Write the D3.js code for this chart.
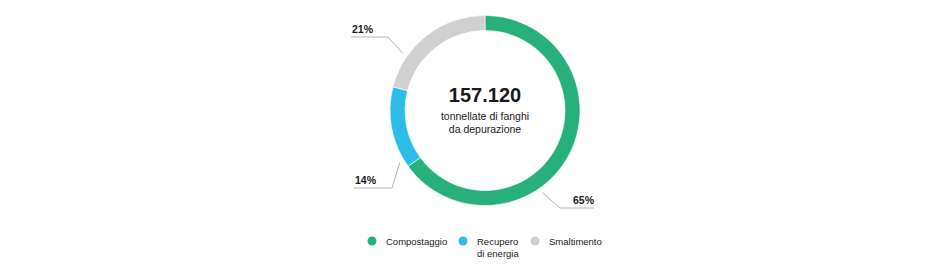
<!DOCTYPE html>
<html>
<head>
<meta charset="utf-8">
<script src="https://cdn.jsdelivr.net/npm/d3@7"></script>
<style>
  html, body { margin: 0; padding: 0; background: #fff; }
  svg text { font-family: "Liberation Sans", Arial, sans-serif; fill: #1a1a1a; }
</style>
</head>
<body>
<div id="chart"></div>
<script>
// data
var categories = ["Compostaggio", "Recupero\ndi energia", "Smaltimento"];
var shares = [65, 14, 21];
var colors = ["#28b07c", "#2bbce8", "#d0d0d0"];
var totalLabel = "157.120";
var subtitleLines = ["tonnellate di fanghi", "da depurazione"];

// layout
var width = 950, height = 268;
var center = { x: 485, y: 110.5 };
var outerR = 95, innerR = 80;
// where each leader line touches the ring (fraction of the slice), and label side
var leaders = [
  { at: 0.62, elbow: [560, 208], end: 594, side: "right" },
  { at: 0.09, elbow: [392, 188], end: 354, side: "left" },
  { at: 0.27, elbow: [388, 37], end: 351, side: "left" }
];
var legendPos = [372, 463, 535];

var svg = d3.select("#chart").append("svg")
  .attr("width", width)
  .attr("height", height);

var g = svg.append("g")
  .attr("transform", "translate(" + center.x + "," + center.y + ")");

var pie = d3.pie().sort(null).value(function(d) { return d; });
var arcs = pie(shares);

var arc = d3.arc().innerRadius(innerR).outerRadius(outerR);

g.selectAll(".slice")
  .data(arcs)
  .enter().append("path")
  .attr("class", "slice")
  .attr("d", arc)
  .attr("fill", function(d, i) { return colors[i]; })
  .attr("stroke", "#fff")
  .attr("stroke-width", 0.6);

// leader lines + percent labels
arcs.forEach(function(d, i) {
  var L = leaders[i];
  var a = d.startAngle + (d.endAngle - d.startAngle) * L.at;
  var r = outerR + 5;
  var px = center.x + r * Math.sin(a);
  var py = center.y - r * Math.cos(a);

  svg.append("polyline")
    .attr("points", [[px, py], L.elbow, [L.end, L.elbow[1]]].map(function(p) { return p.join(","); }).join(" "))
    .attr("fill", "none")
    .attr("stroke", "#b5b5b5")
    .attr("stroke-width", 1);

  svg.append("text")
    .attr("x", L.side === "right" ? L.end : L.end + 1)
    .attr("y", L.elbow[1] - 4)
    .attr("text-anchor", L.side === "right" ? "end" : "start")
    .attr("font-size", 10.5)
    .attr("font-weight", "bold")
    .attr("fill", "#222")
    .text(d.data + "%");
});

// center text
svg.append("text")
  .attr("x", center.x)
  .attr("y", 102)
  .attr("text-anchor", "middle")
  .attr("font-size", 20)
  .attr("font-weight", "bold")
  .attr("fill", "#111")
  .text(totalLabel);

svg.selectAll(".sub")
  .data(subtitleLines)
  .enter().append("text")
  .attr("class", "sub")
  .attr("x", center.x)
  .attr("y", function(d, i) { return 120 + i * 12.5; })
  .attr("text-anchor", "middle")
  .attr("font-size", 10.5)
  .attr("fill", "#333")
  .text(function(d) { return d; });

// legend
var leg = svg.selectAll(".legend")
  .data(categories)
  .enter().append("g")
  .attr("class", "legend")
  .attr("transform", function(d, i) { return "translate(" + legendPos[i] + ",241)"; });

leg.append("circle")
  .attr("r", 4.5)
  .attr("fill", function(d, i) { return colors[i]; });

leg.append("text")
  .attr("font-size", 9.5)
  .attr("fill", "#333")
  .selectAll("tspan")
  .data(function(d) { return d.split("\n"); })
  .enter().append("tspan")
  .attr("x", 14)
  .attr("y", function(d, i) { return 3.5 + i * 12; })
  .text(function(d) { return d; });
</script>
</body>
</html>
